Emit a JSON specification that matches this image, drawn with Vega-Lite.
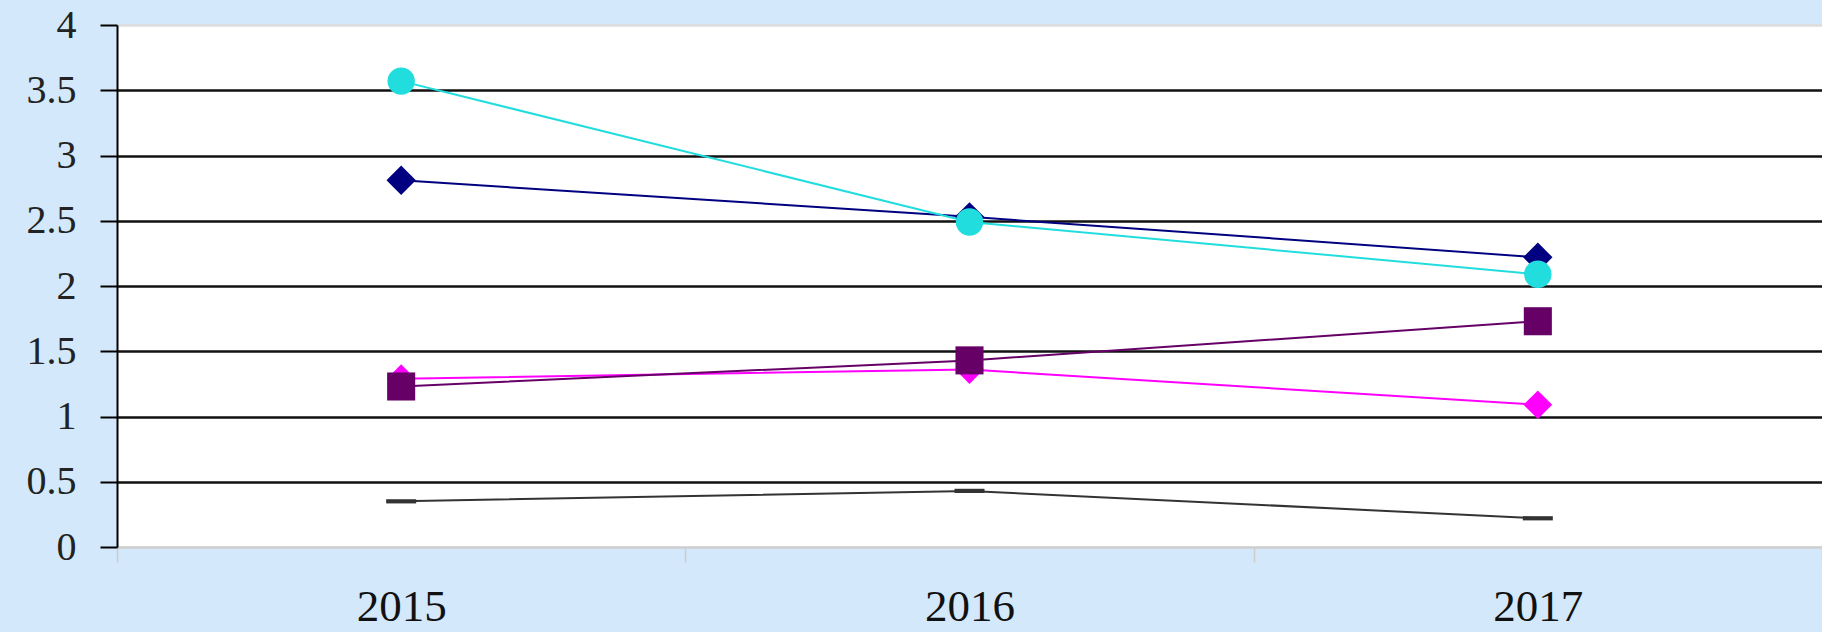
{
  "$schema": "https://vega.github.io/schema/vega-lite/v6.json",
  "width": 1705,
  "height": 522,
  "autosize": {"type": "none"},
  "padding": {"left": 117, "top": 25, "right": 0, "bottom": 85},
  "background": "#d3e8fa",
  "config": {
    "view": {"fill": "white", "stroke": "#d8d8d8", "strokeWidth": 1},
    "font": "Liberation Serif"
  },
  "data": {
    "values": [
      {"year": "2015", "series": "E", "value": 0.35},
      {"year": "2016", "series": "E", "value": 0.43},
      {"year": "2017", "series": "E", "value": 0.22},
      {"year": "2015", "series": "A", "value": 2.81},
      {"year": "2016", "series": "A", "value": 2.53},
      {"year": "2017", "series": "A", "value": 2.22},
      {"year": "2015", "series": "D", "value": 1.29},
      {"year": "2016", "series": "D", "value": 1.36},
      {"year": "2017", "series": "D", "value": 1.09},
      {"year": "2015", "series": "C", "value": 1.23},
      {"year": "2016", "series": "C", "value": 1.43},
      {"year": "2017", "series": "C", "value": 1.73},
      {"year": "2015", "series": "B", "value": 3.57},
      {"year": "2016", "series": "B", "value": 2.49},
      {"year": "2017", "series": "B", "value": 2.09}
    ]
  },
  "encoding": {
    "x": {
      "field": "year",
      "type": "ordinal",
      "scale": {"type": "band", "paddingInner": 0, "paddingOuter": 0},
      "axis": {
        "title": null,
        "labelAngle": 0,
        "labelFont": "Liberation Serif",
        "labelFontSize": 45,
        "labelColor": "#111111",
        "labelBaseline": "alphabetic",
        "labelPadding": 58,
        "tickBand": "extent",
        "domainColor": "#cccccc",
        "domainWidth": 2,
        "tickColor": "#cccccc",
        "tickWidth": 1.5,
        "tickSize": 15,
        "grid": false
      }
    },
    "y": {
      "field": "value",
      "type": "quantitative",
      "scale": {"domain": [0, 4], "nice": false},
      "axis": {
        "title": null,
        "values": [0, 0.5, 1, 1.5, 2, 2.5, 3, 3.5, 4],
        "format": "~g",
        "labelFont": "Liberation Serif",
        "labelFontSize": 40,
        "labelColor": "#222222",
        "labelPadding": 24,
        "domainColor": "black",
        "domainWidth": 2,
        "tickColor": "black",
        "tickWidth": 2,
        "tickSize": 17,
        "grid": true,
        "gridWidth": 2.5,
        "gridColor": {"condition": {"test": "datum.value === 0 || datum.value === 4", "value": "#dddddd"}, "value": "#111111"}
      }
    }
  },
  "layer": [
    {
      "mark": {"type": "line", "strokeWidth": 2},
      "encoding": {
        "color": {
          "field": "series",
          "type": "nominal",
          "scale": {"domain": ["E", "A", "D", "C", "B"], "range": ["#333333", "#000080", "#ff00ff", "#660066", "#22dddd"]},
          "legend": null
        },
        "order": {"field": "year"}
      }
    },
    {
      "mark": {"type": "point", "filled": true, "opacity": 1, "strokeWidth": 0},
      "encoding": {
        "color": {
          "field": "series",
          "type": "nominal",
          "scale": {"domain": ["E", "A", "D", "C", "B"], "range": ["#333333", "#000080", "#ff00ff", "#800080", "#00eeee"]},
          "legend": null
        },
        "shape": {
          "field": "series",
          "type": "nominal",
          "scale": {"domain": ["E", "A", "D", "C", "B"], "range": ["M-1,-0.14L1,-0.14L1,0.14L-1,0.14Z", "diamond", "diamond", "square", "circle"]},
          "legend": null
        },
        "size": {
          "field": "series",
          "type": "nominal",
          "scale": {"domain": ["E", "A", "D", "C", "B"], "range": [900, 750, 850, 1200, 780]},
          "legend": null
        }
      }
    }
  ]
}
